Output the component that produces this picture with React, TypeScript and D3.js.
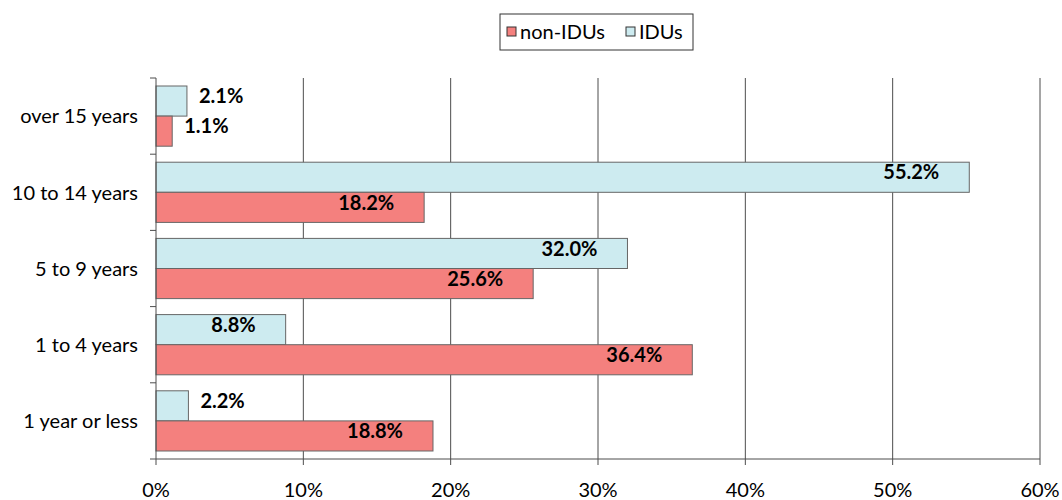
import React, { useEffect, useRef } from 'react';
import * as d3 from 'd3';

const categories = ['over 15 years', '10 to 14 years', '5 to 9 years', '1 to 4 years', '1 year or less'];
const seriesNames = ['IDUs', 'non-IDUs'];
const idus = [2.1, 55.2, 32.0, 8.8, 2.2];
const nonIdus = [1.1, 18.2, 25.6, 36.4, 18.8];
const xTicks = [0, 10, 20, 30, 40, 50, 60];

const colors: Record<string, string> = { 'non-IDUs': '#F4807E', IDUs: '#CDEBF0' };
const font = 'Lato, "Open Sans", sans-serif';

export default function App() {
  const ref = useRef<SVGSVGElement>(null);

  useEffect(() => {
    const svg = d3.select(ref.current);
    svg.selectAll('*').remove();

    const left = 156, right = 1040, top = 78, bottom = 459;

    const x = d3.scaleLinear().domain([0, 60]).range([left, right]);
    const y = d3.scaleBand().domain(categories).range([top, bottom]).paddingInner(0.21).paddingOuter(0.105);
    const inner = d3.scaleBand().domain(seriesNames).range([0, y.bandwidth()]);

    // gridlines
    svg.append('g')
      .selectAll('line')
      .data(xTicks.slice(1))
      .enter()
      .append('line')
      .attr('x1', (d) => x(d)).attr('x2', (d) => x(d))
      .attr('y1', top).attr('y2', bottom)
      .attr('stroke', '#4d4d4d').attr('stroke-width', 1);

    const rows = categories.map((c, i) => [
      { cat: c, s: 'IDUs', v: idus[i] },
      { cat: c, s: 'non-IDUs', v: nonIdus[i] },
    ]).flat();

    svg.append('g')
      .selectAll('rect')
      .data(rows)
      .enter()
      .append('rect')
      .attr('x', x(0))
      .attr('y', (d) => (y(d.cat) as number) + (inner(d.s) as number))
      .attr('width', (d) => x(d.v) - x(0))
      .attr('height', inner.bandwidth())
      .attr('fill', (d) => colors[d.s])
      .attr('stroke', '#666').attr('stroke-width', 1);

    svg.append('g')
      .selectAll('text')
      .data(rows)
      .enter()
      .append('text')
      .attr('x', (d) => (d.v < 5 ? x(d.v) + 12 : x(d.v) - 30))
      .attr('y', (d) => (y(d.cat) as number) + (inner(d.s) as number) + inner.bandwidth() / 2 - 5)
      .attr('dy', '0.36em')
      .attr('text-anchor', (d) => (d.v < 5 ? 'start' : 'end'))
      .style('font-family', font).style('font-weight', 'bold').style('font-size', '20px')
      .attr('fill', '#000')
      .text((d) => `${d.v.toFixed(1)}%`);

    // y axis
    const yEdges = d3.range(categories.length + 1).map((i) => top + (i * (bottom - top)) / categories.length);
    const ya = svg.append('g');
    ya.append('line').attr('x1', left).attr('x2', left).attr('y1', top).attr('y2', bottom).attr('stroke', '#4d4d4d');
    ya.selectAll('.tk').data(yEdges).enter().append('line')
      .attr('x1', left - 6).attr('x2', left).attr('y1', (d) => d).attr('y2', (d) => d).attr('stroke', '#4d4d4d');
    ya.selectAll('text').data(categories).enter().append('text')
      .attr('x', 138)
      .attr('y', (d) => (y(d) as number) + y.bandwidth() / 2)
      .attr('dy', '0.36em')
      .attr('text-anchor', 'end')
      .style('font-family', font).style('font-size', '20px')
      .text((d) => d);

    // x axis
    const xa = svg.append('g');
    xa.append('line').attr('x1', left).attr('x2', right).attr('y1', bottom).attr('y2', bottom).attr('stroke', '#4d4d4d');
    xa.selectAll('.tk').data(xTicks).enter().append('line')
      .attr('x1', (d) => x(d)).attr('x2', (d) => x(d)).attr('y1', bottom).attr('y2', bottom + 6).attr('stroke', '#4d4d4d');
    xa.selectAll('text').data(xTicks).enter().append('text')
      .attr('x', (d) => x(d)).attr('y', 497)
      .attr('text-anchor', 'middle')
      .style('font-family', font).style('font-size', '20px')
      .text((d) => `${d}%`);

    // legend
    const lg = svg.append('g');
    lg.append('rect').attr('x', 500).attr('y', 14).attr('width', 193).attr('height', 36)
      .attr('fill', '#fff').attr('stroke', '#333');
    const items = [{ s: 'non-IDUs', x: 507 }, { s: 'IDUs', x: 626 }];
    items.forEach((it) => {
      lg.append('rect').attr('x', it.x).attr('y', 27).attr('width', 9).attr('height', 9)
        .attr('fill', colors[it.s]).attr('stroke', '#333');
      lg.append('text').attr('x', it.x + 13).attr('y', 32).attr('dy', '0.36em')
        .style('font-family', font).style('font-size', '20px').text(it.s);
    });
  }, []);

  return <svg ref={ref} width={1062} height={500} style={{ position: 'absolute', left: 0, top: 0 }} />;
}
